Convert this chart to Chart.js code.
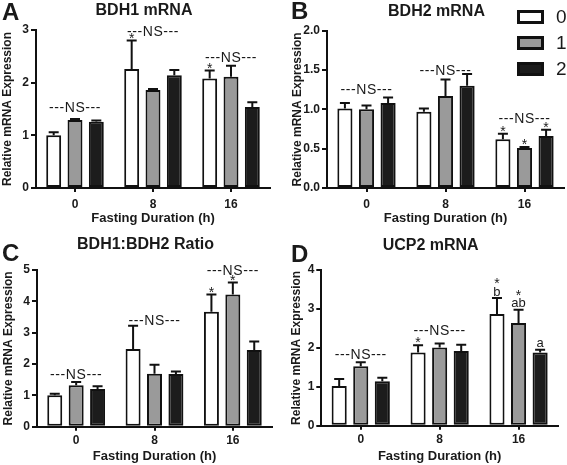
<!DOCTYPE html>
<html>
<head>
<meta charset="utf-8">
<script src="https://cdn.jsdelivr.net/npm/chart.js@4.4.1/dist/chart.umd.min.js"></script>
<style>
  html, body { margin: 0; padding: 0; background: #fff; }
  #wrap { position: relative; width: 567px; height: 465px; overflow: hidden; }
  canvas { position: absolute; }
</style>
</head>
<body>
<div id="wrap">
  <canvas id="cA" width="284" height="232" style="left:0;top:0"></canvas>
  <canvas id="cB" width="283" height="232" style="left:284px;top:0"></canvas>
  <canvas id="cC" width="284" height="233" style="left:0;top:232px"></canvas>
  <canvas id="cD" width="283" height="233" style="left:284px;top:232px"></canvas>
</div>
<script>
/* Fasting duration groups and the three series (0, 1, 2) */
const hours  = ['0', '8', '16'];
const groups = ['0', '1', '2'];
const fills  = ['#ffffff', '#9a9a9a', '#1c1c1c'];

// A — BDH1 mRNA (mean / SEM per series, rows = series 0,1,2)
const bdh1Mean = [[1.00, 2.26, 2.08], [1.29, 1.86, 2.11], [1.26, 2.14, 1.54]];
const bdh1Sem  = [[0.06, 0.54, 0.15], [0.02, 0.02, 0.21], [0.02, 0.10, 0.09]];
const bdh1Ns   = [1.52, 2.96, 2.47];
const bdh1Marks = [[[], ['*'], ['*']], [[], [], []], [[], [], []]];

// B — BDH2 mRNA
const bdh2Mean = [[1.01, 0.97, 0.62], [1.00, 1.17, 0.51], [1.08, 1.30, 0.66]];
const bdh2Sem  = [[0.07, 0.04, 0.07], [0.05, 0.21, 0.01], [0.07, 0.15, 0.08]];
const bdh2Ns   = [1.25, 1.49, 0.88];
const bdh2Marks = [[[], [], ['*']], [[], [], ['*']], [[], [], ['*']]];

// C — BDH1:BDH2 ratio
const ratioMean = [[1.00, 2.48, 3.67], [1.32, 1.69, 4.22], [1.20, 1.68, 2.45]];
const ratioSem  = [[0.05, 0.74, 0.55], [0.11, 0.29, 0.38], [0.09, 0.08, 0.27]];
const ratioNs   = [1.63, 3.38, 4.97];
const ratioMarks = [[[], [], ['*']], [[], [], ['*']], [[], [], []]];

// D — UCP2 mRNA (marks listed bottom-up)
const ucp2Mean = [[1.02, 1.88, 2.87], [1.53, 2.01, 2.64], [1.14, 1.92, 1.88]];
const ucp2Sem  = [[0.18, 0.19, 0.41], [0.10, 0.10, 0.34], [0.09, 0.16, 0.07]];
const ucp2Ns   = [1.82, 2.43, null];
const ucp2Marks = [[[], ['*'], ['b', '*']], [[], [], ['ab', '*']], [[], [], ['a']]];

const FONT = '"Liberation Sans", Arial, Helvetica, sans-serif';
const INK  = '#1a1a1a';

const decor = {
  id: 'decor',
  afterDatasetsDraw(chart) {
    const o = chart.options.plugins.decor;
    const { ctx, chartArea: area, scales: { x, y } } = chart;
    ctx.save();
    ctx.fillStyle = INK;
    ctx.strokeStyle = '#111';
    ctx.textAlign = 'center';

    // error bars + significance marks
    chart.data.datasets.forEach((ds, di) => {
      chart.getDatasetMeta(di).data.forEach((bar, i) => {
        const top = y.getPixelForValue(ds.data[i] + ds.sem[i]);
        ctx.lineWidth = 2;
        ctx.beginPath();
        ctx.moveTo(bar.x, bar.y);
        ctx.lineTo(bar.x, top);
        ctx.moveTo(bar.x - 5, top);
        ctx.lineTo(bar.x + 5, top);
        ctx.stroke();

        let cur = top - 1, prev = null;
        ctx.textBaseline = 'alphabetic';
        (o.marks[di][i] || []).forEach(m => {
          if (m === '*') {
            ctx.font = `14px ${FONT}`;
            const base = cur - (prev ? 3.5 : 2.5) + 5.7;
            ctx.fillText(m, bar.x, base);
            cur = base - 10.2;
          } else {
            ctx.font = `13px ${FONT}`;
            const base = cur - 1.5;
            ctx.fillText(m, bar.x, base);
            cur = base - 9.4;
          }
          prev = m;
        });
      });
    });

    // ---NS--- labels over each group
    ctx.font = `14px ${FONT}`;
    ctx.textBaseline = 'middle';
    ctx.letterSpacing = '0.6px';
    o.ns.forEach((v, i) => {
      if (v == null) return;
      ctx.fillText('---NS---', x.getPixelForValue(i), y.getPixelForValue(v));
    });
    ctx.letterSpacing = '0px';

    // panel title and letter
    ctx.font = `bold 16px ${FONT}`;
    ctx.fillText(o.title, (area.left + area.right) / 2 - 9, o.titleY);
    ctx.textAlign = 'left';
    ctx.font = `bold 24px ${FONT}`;
    ctx.fillText(o.letter, o.letterX, o.letterY);

    // legend (panel B only)
    if (o.legend) {
      chart.data.datasets.forEach((ds, di) => {
        const ly = o.legend.y + di * 26;
        ctx.fillStyle = '#111';
        ctx.fillRect(o.legend.x, ly, 27, 14);
        ctx.fillStyle = ds.backgroundColor;
        ctx.fillRect(o.legend.x + 3, ly + 3, 21, 8);
        ctx.fillStyle = INK;
        ctx.font = `19px ${FONT}`;
        ctx.textBaseline = 'middle';
        ctx.fillText(ds.label, o.legend.x + 39, ly + 8);
      });
    }
    ctx.restore();
  }
};

function makeChart(id, p) {
  return new Chart(document.getElementById(id), {
    type: 'bar',
    data: {
      labels: hours,
      datasets: groups.map((g, k) => ({
        label: g,
        data: p.mean[k],
        sem: p.sem[k],
        backgroundColor: fills[k],
        borderColor: '#111',
        borderWidth: 2,
        borderSkipped: false,
        categoryPercentage: 0.82,
        barPercentage: 0.7,
      })),
    },
    options: {
      responsive: false,
      animation: false,
      events: [],
      layout: { padding: { top: p.top, right: p.right, left: 0, bottom: 0 } },
      plugins: {
        legend: { display: false },
        tooltip: { enabled: false },
        decor: { title: p.title, letter: p.letter, titleY: p.titleY, letterX: p.letterX, letterY: p.letterY,
                 ns: p.ns, marks: p.marks, legend: p.legend },
      },
      scales: {
        x: {
          grid: { display: true, drawOnChartArea: false, offset: false, color: '#111', lineWidth: 2, tickLength: 4 },
          border: { color: '#111', width: 2 },
          ticks: { color: INK, padding: p.xTickPad, font: { family: FONT, size: 12, weight: 'bold' } },
          title: { display: true, text: 'Fasting Duration (h)', color: INK,
                   font: { family: FONT, size: 13, weight: 'bold' }, padding: { top: 0, bottom: p.xTitlePad } },
          afterFit: s => { s.height = p.xh; },
        },
        y: {
          min: 0, max: p.max,
          grid: { display: true, drawOnChartArea: false, color: '#111', lineWidth: 2, tickLength: 5 },
          border: { color: '#111', width: 2 },
          ticks: { stepSize: p.step, color: INK, padding: 2, font: { family: FONT, size: 12, weight: 'bold' },
                   callback: v => p.step < 1 ? v.toFixed(1) : String(v) },
          title: { display: true, text: 'Relative mRNA Expression', color: INK,
                   font: { family: FONT, size: 12, weight: 'bold' }, padding: { top: p.yTitlePad, bottom: 0 } },
          afterFit: s => { s.width = p.yw; },
        },
      },
    },
    plugins: [decor],
  });
}

makeChart('cA', { mean: bdh1Mean, sem: bdh1Sem, ns: bdh1Ns, marks: bdh1Marks, max: 3, step: 1,
  title: 'BDH1 mRNA', letter: 'A', titleY: 11, letterX: 2, letterY: 13,
  top: 30, right: 14, yw: 36, xh: 44, xTickPad: 5, xTitlePad: 6, yTitlePad: 0 });

makeChart('cB', { mean: bdh2Mean, sem: bdh2Sem, ns: bdh2Ns, marks: bdh2Marks, max: 2, step: 0.5,
  title: 'BDH2 mRNA', letter: 'B', titleY: 12, letterX: 7, letterY: 12.5,
  top: 30.7, right: 3, yw: 43, xh: 44, xTickPad: 5, xTitlePad: 6, yTitlePad: 6,
  legend: { x: 233, y: 10 } });

makeChart('cC', { mean: ratioMean, sem: ratioSem, ns: ratioNs, marks: ratioMarks, max: 5, step: 1,
  title: 'BDH1:BDH2 Ratio', letter: 'C', titleY: 13, letterX: 2, letterY: 22,
  top: 38, right: 12, yw: 37, xh: 38.3, xTickPad: 3, xTitlePad: 1, yTitlePad: 1 });

makeChart('cD', { mean: ucp2Mean, sem: ucp2Sem, ns: ucp2Ns, marks: ucp2Marks, max: 4, step: 1,
  title: 'UCP2 mRNA', letter: 'D', titleY: 14, letterX: 7, letterY: 23.5,
  top: 38, right: 9, yw: 37.3, xh: 39.3, xTickPad: 3, xTitlePad: 1, yTitlePad: 5.5 });
</script>
</body>
</html>
